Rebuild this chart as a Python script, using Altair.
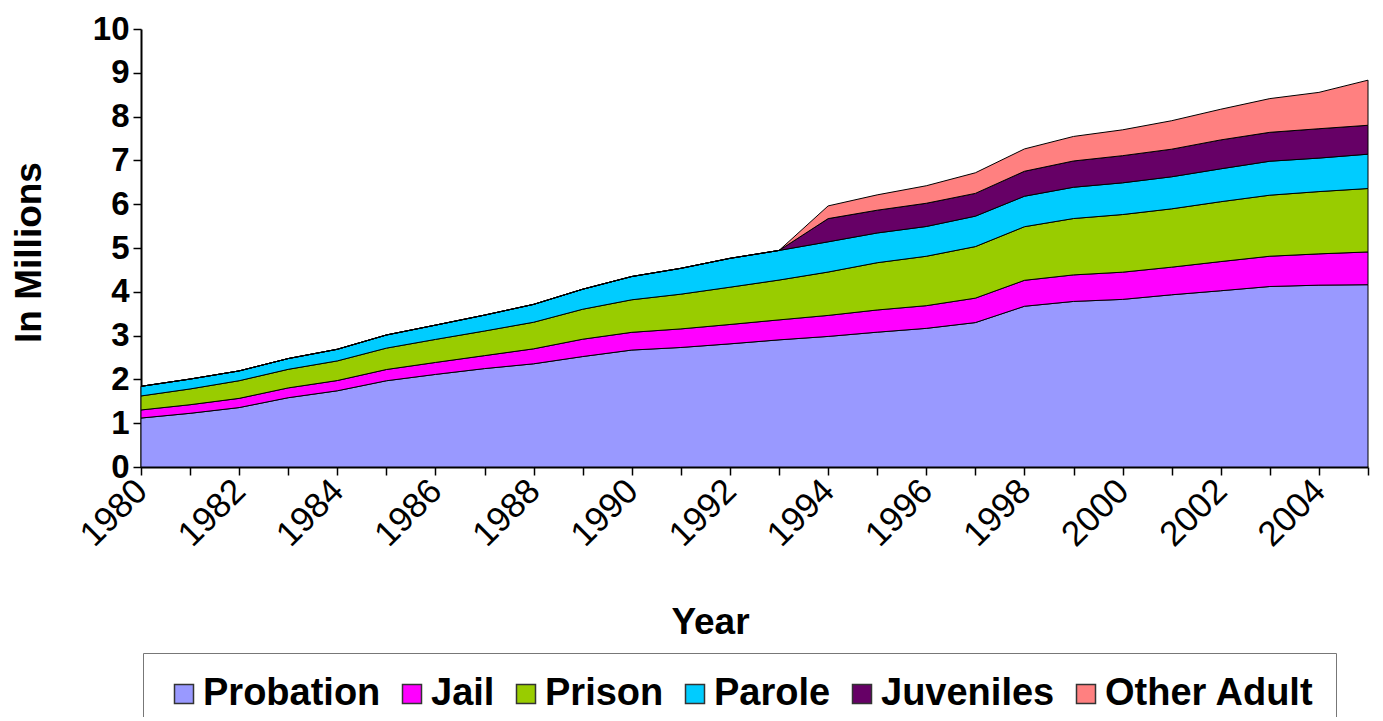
import altair as alt
import pandas as pd

years = list(range(1980, 2006))
series_names = ["Probation", "Jail", "Prison", "Parole", "Juveniles", "Other Adult"]
series_colors = ["#9999FF", "#FF00FF", "#99CC00", "#00CCFF", "#660066", "#FF8080"]

probation = [1.118, 1.226, 1.357, 1.582, 1.740, 1.969, 2.114, 2.247, 2.356, 2.522,
             2.670, 2.729, 2.812, 2.903, 2.981, 3.078, 3.165, 3.297, 3.670, 3.780,
             3.827, 3.932, 4.024, 4.121, 4.152, 4.162]
jail = [0.184, 0.196, 0.210, 0.224, 0.234, 0.257, 0.273, 0.296, 0.342, 0.396,
        0.405, 0.424, 0.442, 0.456, 0.480, 0.507, 0.518, 0.558, 0.592, 0.606,
        0.621, 0.631, 0.666, 0.691, 0.714, 0.748]
prison = [0.320, 0.360, 0.403, 0.424, 0.448, 0.488, 0.526, 0.562, 0.607, 0.684,
          0.743, 0.793, 0.851, 0.909, 0.990, 1.079, 1.128, 1.177, 1.224, 1.287,
          1.316, 1.331, 1.367, 1.394, 1.422, 1.448]
parole = [0.220, 0.226, 0.224, 0.246, 0.266, 0.300, 0.326, 0.363, 0.408, 0.457,
          0.531, 0.590, 0.659, 0.676, 0.690, 0.679, 0.680, 0.695, 0.696, 0.714,
          0.724, 0.732, 0.751, 0.775, 0.765, 0.784]
juveniles = [0, 0, 0, 0, 0, 0, 0, 0, 0, 0, 0, 0, 0, 0,
             0.53, 0.52, 0.53, 0.52, 0.57, 0.60, 0.62, 0.63, 0.66, 0.66, 0.67, 0.66]
other_adult = [0, 0, 0, 0, 0, 0, 0, 0, 0, 0, 0, 0, 0, 0,
               0.29, 0.35, 0.40, 0.47, 0.51, 0.56, 0.59, 0.65, 0.70, 0.77, 0.83, 1.03]

y_ticks = list(range(0, 11))

all_series = [probation, jail, prison, parole, juveniles, other_adult]
rows = []
for idx, (name, vals) in enumerate(zip(series_names, all_series)):
    for yr, v in zip(years, vals):
        rows.append({"year": yr, "value": v, "series": name, "order": idx})
df = pd.DataFrame(rows)

FONT = "Liberation Sans"

chart = alt.Chart(df).mark_area(stroke="black", strokeWidth=1, interpolate="linear").encode(
    x=alt.X("year:Q",
            scale=alt.Scale(domain=[1980, 2005], nice=False, zero=False),
            axis=alt.Axis(values=years, format="d",
                          labelExpr="datum.value % 2 == 0 ? datum.label : ''",
                          labelAngle=315, labelAlign="right", labelBaseline="middle",
                          labelFontSize=35, labelFont=FONT, labelColor="black",
                          labelPadding=10, labelFlush=False, labelOverlap=False,
                          tickSize=8, tickColor="black", tickWidth=1.5,
                          domainColor="black", domainWidth=2,
                          title="Year", titleFont=FONT, titleFontSize=37,
                          titleFontWeight="bold", titleColor="black",
                          titleX=569, titleY=166, titleAlign="center",
                          titleBaseline="alphabetic", grid=False)),
    y=alt.Y("value:Q", stack="zero",
            scale=alt.Scale(domain=[0, 10], nice=False),
            axis=alt.Axis(values=y_ticks, format="d",
                          labelFontSize=33, labelFont=FONT, labelFontWeight="bold",
                          labelColor="black", labelPadding=4,
                          tickSize=8, tickColor="black", tickWidth=1.5,
                          domainColor="black", domainWidth=2,
                          title="In Millions", titleFont=FONT, titleFontSize=37,
                          titleFontWeight="bold", titleColor="black",
                          titleAngle=270, titleX=-101, titleY=223,
                          titleAlign="center", titleBaseline="alphabetic",
                          grid=False)),
    color=alt.Color("series:N",
                    scale=alt.Scale(domain=series_names, range=series_colors),
                    legend=alt.Legend(title=None, orient="none", direction="horizontal",
                                      legendX=2, legendY=624,
                                      labelFont=FONT, labelFontSize=38,
                                      labelFontWeight="bold", labelColor="black",
                                      labelLimit=0,
                                      symbolType="square", symbolSize=361,
                                      symbolStrokeColor="#333333", symbolStrokeWidth=1.5,
                                      symbolOpacity=1, labelOffset=0,
                                      columnPadding=12, padding=22,
                                      strokeColor="#777777")),
    order=alt.Order("order:Q", sort="ascending"),
).properties(
    width=1227,
    height=438,
    background="white",
    autosize=alt.AutoSizeParams(type="none"),
    padding={"left": 133, "top": 21, "right": 5, "bottom": 250},
).configure_view(stroke=None)

chart.save("out.html", embed_options={"renderer": "svg", "actions": False})
